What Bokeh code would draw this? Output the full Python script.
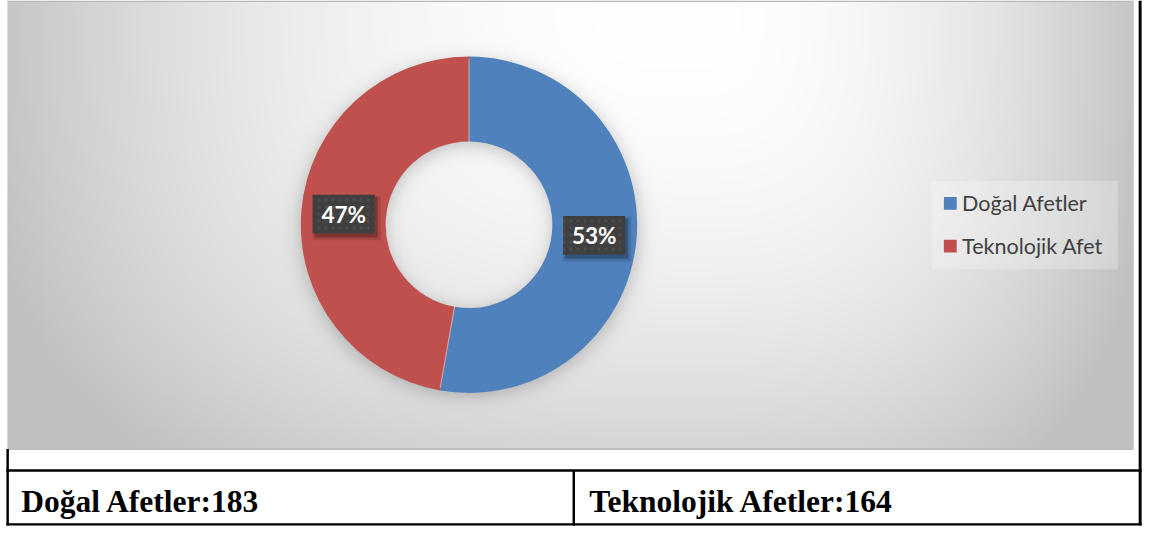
import numpy as np
from bokeh.plotting import figure
from bokeh.models import Range1d, ColumnDataSource
from bokeh.core.properties import value
from bokeh.embed import file_html
from bokeh.resources import INLINE

# ---------------- data ----------------
categories = ["Doğal Afetler", "Teknolojik Afet"]
table_labels = ["Doğal Afetler", "Teknolojik Afetler"]
counts = [183, 164]
colors = ["#4F81BD", "#C0504D"]

# ---------------- layout (reference pixel coordinates) ----------------
REF_W, REF_H = 1166, 545
W, H = 1150, 529


def Y(ry):
    return REF_H - ry


CX, CY = 475, 231
R_OUT, R_IN = 170.5, 84.5

p = figure(width=W, height=H, x_range=Range1d(0, REF_W), y_range=Range1d(0, REF_H),
           x_axis_type=None, y_axis_type=None, toolbar_location=None,
           output_backend="svg", min_border=0)
p.outline_line_color = None
p.background_fill_color = "white"
p.border_fill_color = "white"

# ---------------- gradient background with donut shadow ----------------
bx0, bx1, by0, by1 = 7, 1149, 1, 461
xs = np.arange(bx0, bx1) + 0.5
ys = np.arange(by0, by1) + 0.5
GX, GY = np.meshgrid(xs, ys)
gcx, gcy = 690.0, 0.0
ax = np.where(GX < gcx, 718.0, 480.0)
ay = 565.0
d = ((np.abs(GX - gcx) / ax) ** 3 + (np.abs(GY - gcy) / ay) ** 3) ** (1 / 3)
val = 255 - 63 * np.clip(d, 0, 1) ** 2

r = np.hypot(GX - CX, GY - (CY + 4))
wsh = 5.0


def sig(t):
    return 1 / (1 + np.exp(-t))


ring = sig((172 + 1 - r) / wsh) * sig((r - (85 - 1)) / wsh)
val = val * (1 - 0.2 * ring)
val = np.clip(val, 0, 255).astype(np.uint8)

hh, ww = val.shape
img = np.empty((hh, ww), dtype=np.uint32)
view = img.view(dtype=np.uint8).reshape((hh, ww, 4))
view[..., 0] = val
view[..., 1] = val
view[..., 2] = val
view[..., 3] = 255
img = np.ascontiguousarray(np.flipud(img))
p.image_rgba(image=[img], x=bx0, y=Y(by1), dw=bx1 - bx0, dh=by1 - by0)

# ---------------- donut ----------------
total = float(sum(counts))
fracs = [c / total for c in counts]
cum = np.cumsum([0.0] + fracs)
starts = np.pi / 2 - 2 * np.pi * cum[:-1]
ends = np.pi / 2 - 2 * np.pi * cum[1:]
src = ColumnDataSource(dict(start=starts, end=ends, color=colors, name=categories))
p.annular_wedge(x=CX, y=Y(CY), inner_radius=R_IN, outer_radius=R_OUT,
                start_angle="start", end_angle="end", direction="clock",
                fill_color="color", line_color=None, source=src)

p.segment(x0=CX + R_IN * np.cos(starts), y0=Y(CY) + R_IN * np.sin(starts),
          x1=CX + R_OUT * np.cos(starts), y1=Y(CY) + R_OUT * np.sin(starts),
          line_color="white", line_alpha=0.45, line_width=1)

# ---------------- data labels ----------------
mids = (starts + ends) / 2
RM = (R_IN + R_OUT) / 2
lx = CX + RM * np.cos(mids)
ly = Y(CY) + RM * np.sin(mids)
pct = [f"{round(f * 100)}%" for f in fracs]

p.rect(x=lx + 3, y=ly - 4, width=69, height=46, fill_color="black", fill_alpha=0.12, line_color=None)
p.rect(x=lx + 2.5, y=ly - 3.5, width=64, height=41, fill_color="black", fill_alpha=0.25, line_color=None)
p.rect(x=lx, y=ly, width=63, height=40, fill_color="#3f3f3f", line_color=None,
       hatch_pattern="dot", hatch_color="#4b4b4b", hatch_scale=7, hatch_weight=1)
p.text(x=lx, y=ly, text=pct, text_align="center", text_baseline="middle",
       text_color="white", text_font=value("Lato"), text_font_style="bold",
       text_font_size="22.5px")

# ---------------- legend ----------------
p.rect(x=1038.5, y=Y(231.5), width=189, height=91, fill_color="white", fill_alpha=0.25, line_color=None)
leg_y = [Y(209), Y(253)]
p.rect(x=[963, 963], y=leg_y, width=13, height=13, fill_color=colors, line_color=None)
p.text(x=[975, 975], y=leg_y, text=categories, text_align="left", text_baseline="middle",
       text_color="#404040", text_font=value("Lato"), text_font_size="21.5px")

# ---------------- frame / table ----------------
p.quad(left=7, right=1149, bottom=Y(463), top=Y(461), fill_color="#bdbdbd", line_color=None)
p.quad(left=7, right=1149, bottom=Y(1.5), top=Y(0), fill_color="#b8b8b8", line_color=None)
p.quad(left=[1154, 6, 6, 580, 6], right=[1157, 8.5, 1157, 582.5, 1157],
       bottom=[Y(541), Y(541), Y(485.5), Y(541), Y(541)],
       top=[Y(0), Y(462), Y(483), Y(484), Y(538.5)],
       fill_color="black", line_color=None)

table_text = [f"{lab}:{c}" for lab, c in zip(table_labels, counts)]
p.text(x=[21, 597], y=[Y(516), Y(516)], text=table_text, text_align="left",
       text_baseline="alphabetic", text_color="black",
       text_font=value("Liberation Serif"), text_font_style="bold", text_font_size="31.5px")

open("out.html", "w").write(file_html(p, INLINE))
